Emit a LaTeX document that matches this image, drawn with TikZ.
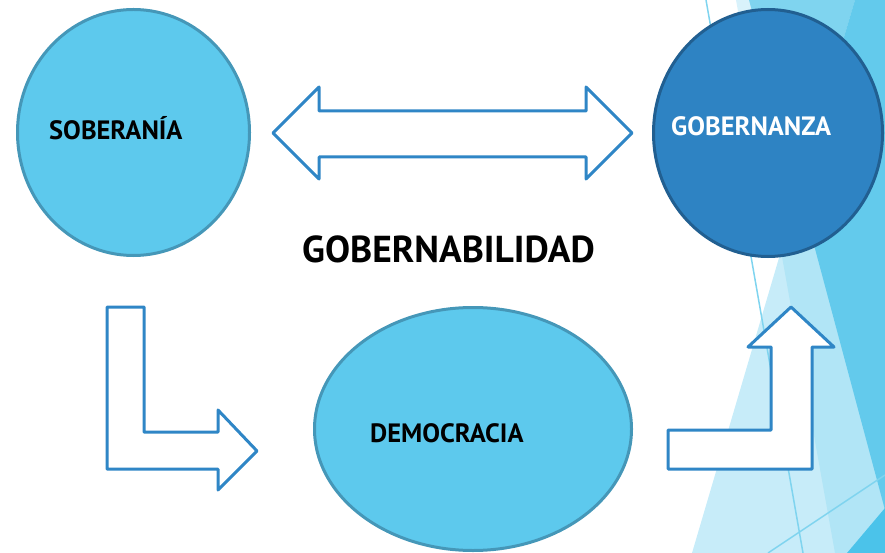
\documentclass[tikz,border=0pt]{standalone}
\usepackage{fontspec}
\setmainfont{PT Sans}
\usepackage{tikz}
\usetikzlibrary{shapes.geometric}

\definecolor{bubblefill}{HTML}{5DC9ED}
\definecolor{bubbleline}{HTML}{4597B8}
\definecolor{darkfill}{HTML}{2E83C3}
\definecolor{darkline}{HTML}{215F91}
\definecolor{arrowline}{HTML}{2F86C6}
\definecolor{bgpale}{HTML}{C7ECF9}
\definecolor{bgsliver}{HTML}{D9F2FB}
\definecolor{bglight}{HTML}{B1E5F6}
\definecolor{bgmid}{HTML}{7FD4EF}
\definecolor{bgdark}{HTML}{63CAEC}
\definecolor{bgcorner}{HTML}{4BC3EA}

\begin{document}
\begin{tikzpicture}[x=1pt,y=-1pt,
  bubble/.style={ellipse,draw=bubbleline,fill=bubblefill,line width=3pt,inner sep=0pt},
  darkbubble/.style={bubble,draw=darkline,fill=darkfill},
  blockarrow/.style={draw=arrowline,fill=white,line width=3pt,line join=round},
  word/.style={inner sep=0pt,anchor=base west,font=\fontsize{26.5}{31}\selectfont\bfseries},
  bgline/.style={draw=bgmid,line width=1.5pt}]
  \useasboundingbox (0,0) rectangle (885,553);

  % background facets
  \fill[bgsliver] (736,0) -- (885,0) -- (885,553) -- (835,553) -- cycle;
  \fill[bgpale] (855,0) -- (885,0) -- (885,553) -- (692,553) -- cycle;
  \fill[bglight] (781,251) -- (855,0) -- (885,0) -- (885,553) -- (835,553) -- cycle;
  \fill[bgmid] (749,0) -- (855,0) -- (799,189) -- cycle;
  \fill[bgdark] (799,189) -- (855,0) -- (885,0) -- (885,510) -- cycle;
  \fill[bgcorner] (847,553) -- (885,508) -- (885,553) -- cycle;
  \draw[bgline] (706,0) -- (803,553);
  \draw[bgline] (768,553) -- (885,475);

  % circles
  \node[bubble,minimum width=232pt,minimum height=246pt] (soberania) at (133.5,132.5) {};
  \node[darkbubble,minimum width=229pt,minimum height=247pt] (gobernanza) at (768,133) {};
  \node[bubble,minimum width=317pt,minimum height=243pt] (democracia) at (473,429) {};

  \node[word] (tsob) at (49,140) {SOBERANÍA};
  \node[word,text=white] (tgob) at (671,136) {GOBERNANZA};
  \node[word] (tdem) at (370,442) {DEMOCRACIA};
  \node[word,font=\fontsize{37.5}{44}\selectfont\bfseries] (title) at (302,262) {GOBERNABILIDAD};

  % block arrows
  \draw[blockarrow] (273,133) -- (319,87) -- (319,111) -- (586,111) -- (586,87) -- (632,133)
    -- (586,179) -- (586,157) -- (319,157) -- (319,179) -- cycle;
  \draw[blockarrow] (107,307) -- (144,307) -- (144,432) -- (218,432) -- (218,410) -- (257,451)
    -- (218,490) -- (218,469) -- (107,469) -- cycle;
  \draw[blockarrow] (668,469) -- (668,430) -- (771,430) -- (771,347) -- (748,347) -- (791,307)
    -- (834,347) -- (812,347) -- (812,469) -- cycle;
\end{tikzpicture}
\end{document}
